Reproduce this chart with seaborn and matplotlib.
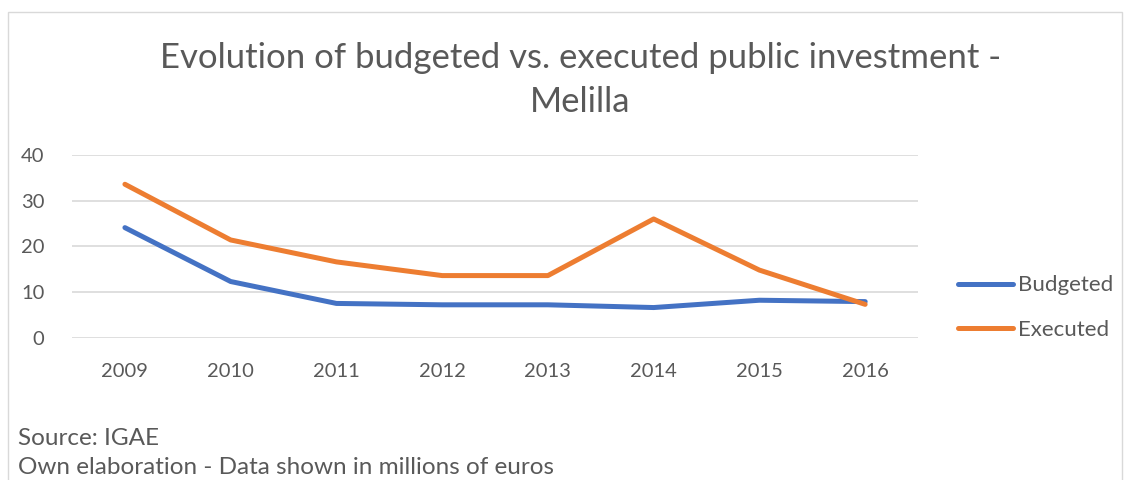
import pandas as pd
import numpy as np
from matplotlib import pyplot as plt
from matplotlib.patches import Rectangle
import seaborn as sns

# Values (millions of euros)
years = ["2009", "2010", "2011", "2012", "2013", "2014", "2015", "2016"]
budgeted = [24.1, 12.3, 7.5, 7.2, 7.2, 6.6, 8.2, 7.9]
executed = [33.6, 21.4, 16.6, 13.6, 13.6, 26.0, 14.8, 7.3]

df = pd.DataFrame({
    "year": years * 2,
    "value": budgeted + executed,
    "series": ["Budgeted"] * len(years) + ["Executed"] * len(years),
})

sns.set_style("white")
plt.rcParams["font.family"] = ["Lato", "DejaVu Sans"]
grey = "#595959"

fig = plt.figure(figsize=(11.31, 4.8), dpi=100)
ax = fig.add_axes([0.0637, 0.2965, 0.748, 0.3805])

sns.lineplot(data=df, x="year", y="value", hue="series",
             palette={"Budgeted": "#4472C4", "Executed": "#ED7D31"},
             linewidth=3.6, sort=False, ax=ax)

ax.set_xlim(-0.5, len(years) - 0.5)
ax.set_ylim(0, 40)
ax.set_yticks([0, 10, 20, 30, 40])
ax.yaxis.grid(True, color="#D9D9D9", linewidth=1.2)
ax.set_axisbelow(True)
for s in ax.spines.values():
    s.set_visible(False)
ax.set_xlabel("")
ax.set_ylabel("")
ax.tick_params(axis="both", length=0, labelsize=14.5, labelcolor=grey)
ax.tick_params(axis="x", pad=18)
ax.tick_params(axis="y", pad=20)

leg = ax.legend(loc="center left", bbox_to_anchor=(1.047, 0.165), frameon=False,
                fontsize=16, handlelength=2.5, handletextpad=0.2,
                labelspacing=1.1, borderpad=0, borderaxespad=0)
for t in leg.get_texts():
    t.set_color(grey)

fig.text(0.513, 0.88, "Evolution of budgeted vs. executed public investment -",
         ha="center", va="center", fontsize=25, color=grey)
fig.text(0.513, 0.787, "Melilla", ha="center", va="center", fontsize=25, color=grey)

fig.text(0.016, 0.087, "Source: IGAE", ha="left", va="center", fontsize=17.5, color=grey)
fig.text(0.016, 0.027, "Own elaboration - Data shown in millions of euros",
         ha="left", va="center", fontsize=17.5, color=grey)

fig.patches.append(Rectangle((0.007, -0.01), 0.985, 0.985, transform=fig.transFigure,
                             fill=False, edgecolor="#D9D9D9", linewidth=1))

fig.savefig("out.png", dpi=100)
